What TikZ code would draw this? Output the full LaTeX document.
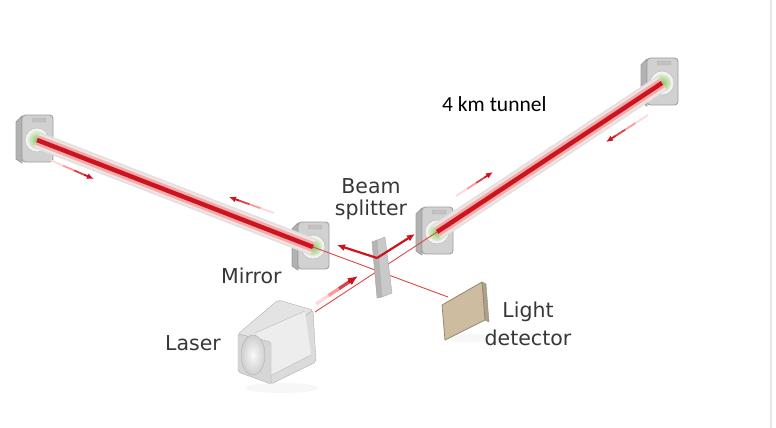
\documentclass[tikz,border=0pt]{standalone}
\usepackage{fontspec}
\setmainfont{DejaVu Sans}
\newfontfamily\calibfont{Carlito}
\usetikzlibrary{arrows.meta,calc}
\definecolor{beamred}{RGB}{205,20,30}
\definecolor{beampink}{RGB}{238,172,172}
\definecolor{beampale}{RGB}{246,226,224}
\definecolor{thinred}{RGB}{220,70,70}
\definecolor{mgreen}{RGB}{140,200,110}
\definecolor{mgreenlt}{RGB}{222,238,208}
\definecolor{labelgray}{RGB}{55,55,55}
\definecolor{dettan}{RGB}{205,188,160}
\definecolor{detedge}{RGB}{150,135,112}
\newcommand\fadearrow[4]{%
  \draw[line width=#3, red!15] (#1) -- ($(#1)!0.32!(#2)$);
  \draw[line width=#3, red!40] ($(#1)!0.3!(#2)$) -- ($(#1)!0.57!(#2)$);
  \draw[line width=#3, beamred!80] ($(#1)!0.55!(#2)$) -- ($(#1)!0.8!(#2)$);
  \draw[line width=#3, beamred, -{Latex[length=#4,width=#4*0.85]}] ($(#1)!0.78!(#2)$) -- (#2);
}
\tikzset{
  mirror/.pic={
    \filldraw[fill=gray!60, draw=gray!75, line width=0.9, line join=round] (-15,-24) -- (-21,-18) -- (-21,19) -- (-15,23) -- cycle;
    \filldraw[fill=gray!36, draw=gray!75, line width=0.9, rounded corners=3.5] (-15,-25) rectangle (16,22);
    \filldraw[fill=gray!48, draw=gray!60, rounded corners=1] (-5,-22) rectangle (9,-18);
    \filldraw[fill=gray!10, draw=gray!55] (0,0) circle (12);
    \shade[inner color=mgreen, outer color=mgreenlt] (0,0) circle (9);
  },
  beamedge/.style={line width=17, color=gray!24},
  beamhalo/.style={line width=14, color=beampale},
  beampinkband/.style={line width=10, color=beampink},
  beamcore/.style={line width=4.5, color=beamred},
  thinbeam/.style={line width=0.9, color=thinred},
  lbl/.style={font=\fontsize{20.5}{24}\selectfont, text=labelgray, inner sep=0},
}
\begin{document}
\begin{tikzpicture}[x=1pt,y=-1pt]
\useasboundingbox (0,0) rectangle (776,428);
\fill[white] (0,0) rectangle (776,428);
\draw[gray!18, line width=1.6] (771,0) -- (771,428);

% key points
\coordinate (m1) at (37,140);
\coordinate (m2) at (313,247);
\coordinate (m3) at (437,232);
\coordinate (m4) at (662,83);
\coordinate (bs) at (377,271);
\coordinate (lasout) at (315,312);
\coordinate (det) at (448,297);

% soft shadows
\fill[gray!6] (282,388) ellipse [x radius=36, y radius=5];
\fill[gray!6] (468,338) ellipse [x radius=22, y radius=4];

% mirrors
\pic at (m1) {mirror};
\pic at (m2) {mirror};
\pic at (m3) {mirror};
\pic at (m4) {mirror};

% long arms
\foreach \a/\b in {m1/m2, m3/m4} {
  \draw[beamedge] (\a) -- (\b);
  \draw[beamhalo] (\a) -- (\b);
  \draw[beampinkband] (\a) -- (\b);
  \draw[beamcore] (\a) -- (\b);
}

% thin beams through the splitter
\draw[thinbeam] (lasout) -- (m3);
\draw[thinbeam] (m2) -- (det);

% beam splitter
\filldraw[fill=gray!58, draw=gray!70, line join=round] (372,242) -- (377,240) -- (382,297) -- (377,298) -- cycle;
\filldraw[fill=gray!42, draw=gray!65, line join=round] (377,240) -- (385,237) -- (392,293) -- (382,297) -- cycle;

% light detector
\filldraw[fill=detedge!80, draw=detedge, line join=round] (482,282) -- (486,284) -- (489,322) -- (485,320) -- cycle;
\filldraw[fill=dettan, draw=detedge, line width=0.8, line join=round] (442,305) -- (482,282) -- (485,320) -- (445,340) -- cycle;

% laser
\filldraw[fill=gray!22, draw=gray!62, line join=round, rounded corners=2] (238,334) -- (278,300) -- (313,310) -- (271,342) -- cycle;
\filldraw[fill=gray!28, draw=gray!62, line join=round, rounded corners=2] (271,342) -- (313,310) -- (316,362) -- (271,384) -- cycle;
\fill[gray!14] (255,333) -- (305,311) -- (311,355) -- (268,377) -- cycle;
\draw[gray!55] (255,333) -- (305,311);
\draw[gray!55] (268,377) -- (311,355);
\filldraw[fill=gray!32, draw=gray!62, line join=round, rounded corners=2] (238,334) -- (271,342) -- (271,384) -- (238,372) -- cycle;
\shade[inner color=gray!5, outer color=gray!38, draw=gray!60] (253,355) ellipse [x radius=12, y radius=20];

% direction arrows
\coordinate (a1s) at (50,160);  \coordinate (a1e) at (94,179);
\coordinate (a2s) at (274,213); \coordinate (a2e) at (229,197);
\coordinate (a3s) at (456,196); \coordinate (a3e) at (493,172);
\coordinate (a4s) at (648,115); \coordinate (a4e) at (606,142);
\fadearrow{a1s}{a1e}{1.8}{7}
\fadearrow{a2s}{a2e}{1.8}{7}
\fadearrow{a3s}{a3e}{1.8}{7}
\fadearrow{a4s}{a4e}{1.8}{7}
\coordinate (lzs) at (316,304); \coordinate (lze) at (358,276);
\fadearrow{lzs}{lze}{3.2}{10}
\coordinate (vx) at (377,258);
\coordinate (vl) at (337,245);
\coordinate (vr) at (415,234);
\draw[beamred, line width=2.2, -{Latex[length=8,width=7]}] (vx) -- (vl);
\draw[beamred, line width=2.2, -{Latex[length=8,width=7]}] (vx) -- (vr);

% labels
\node[lbl, anchor=base, align=center, font=\fontsize{20.5}{22}\selectfont] (splitlbl) at (371,215) {Beam\\splitter};
\node[lbl, anchor=base west] (mirlbl) at (221,283) {Mirror};
\node[lbl, anchor=base west] (laslbl) at (165,350) {Laser};
\node[lbl, anchor=base, align=center, font=\fontsize{20.5}{28}\selectfont] (detlbl) at (528,345) {Light\\detector};
\node[anchor=base west, inner sep=0, font=\calibfont\fontsize{21.5}{24}\selectfont] (tunlbl) at (442,111) {4 km tunnel};
\end{tikzpicture}
\end{document}
